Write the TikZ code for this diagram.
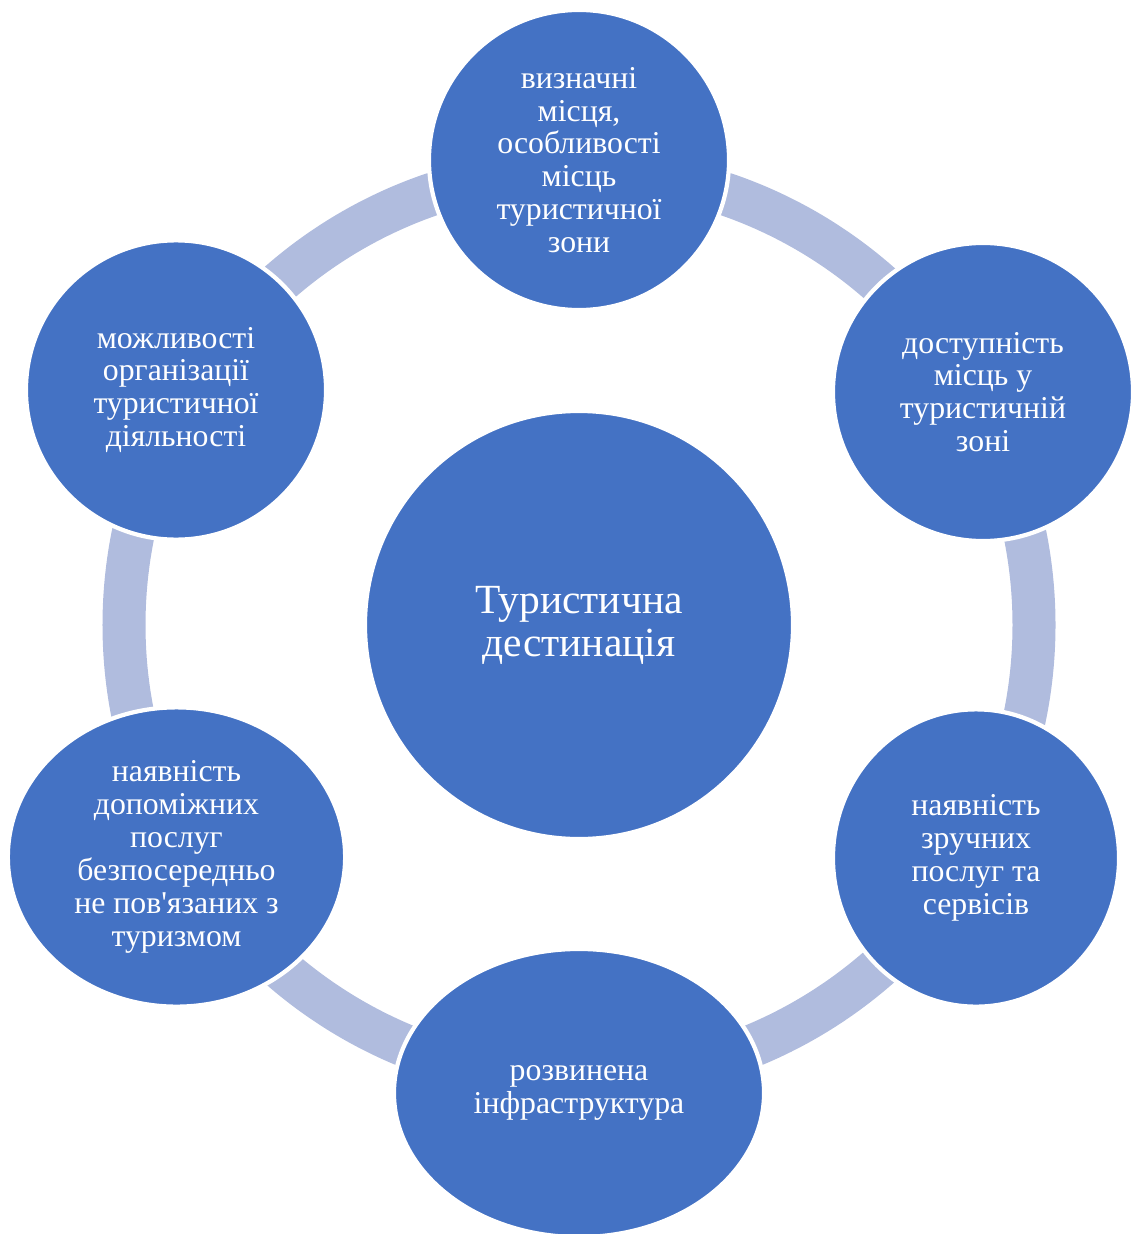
\documentclass[tikz,border=0pt]{standalone}
\usepackage{fontspec}
\newfontfamily\destfont{Liberation Serif}
\usetikzlibrary{shapes.geometric}
\definecolor{destblue}{RGB}{68,114,196}
\definecolor{destring}{RGB}{176,188,222}

\begin{document}
\begin{tikzpicture}[x=0.025cm,y=-0.025cm]

%
% Styles
%
\tikzstyle{hub}   = [circle,fill=destblue,draw=white,line width=3pt,text=white,align=center,inner sep=0pt,font=\destfont\fontsize{29.5}{30.5}\selectfont]
\tikzstyle{part}  = [ellipse,fill=destblue,draw=white,line width=3pt,text=white,align=center,inner sep=0pt,font=\destfont\fontsize{22.6}{23.4}\selectfont]
\tikzstyle{cycle} = [draw=destring,line width=1.075cm]

\useasboundingbox (0,0) rectangle (1133,1234);

\draw[cycle] (579,625) circle[radius=455];

\node[hub,minimum size=10.7cm] (hub) at (579,625) {Туристична\\дестинація};

\node[part,minimum width=7.5cm,minimum height=7.5cm]   (sights)    at (579,160)   {визначні\\місця,\\особливості\\місць\\туристичної\\зони};
\node[part,minimum width=7.5cm,minimum height=7.45cm]  (access)    at (983,392)   {доступність\\місць у\\туристичній\\зоні};
\node[part,minimum width=7.15cm,minimum height=7.43cm] (services)  at (976,858)   {наявність\\зручних\\послуг та\\сервісів};
\node[part,minimum width=9.25cm,minimum height=7.2cm]  (infra)     at (579,1093)  {розвинена\\інфраструктура};
\node[part,minimum width=8.43cm,minimum height=7.48cm] (auxiliary) at (176.5,857) {наявність\\допоміжних\\послуг\\безпосередньо\\не пов'язаних з\\туризмом};
\node[part,minimum width=7.5cm,minimum height=7.48cm]  (organize)  at (176,390)   {можливості\\організації\\туристичної\\діяльності};

\end{tikzpicture}
\end{document}
